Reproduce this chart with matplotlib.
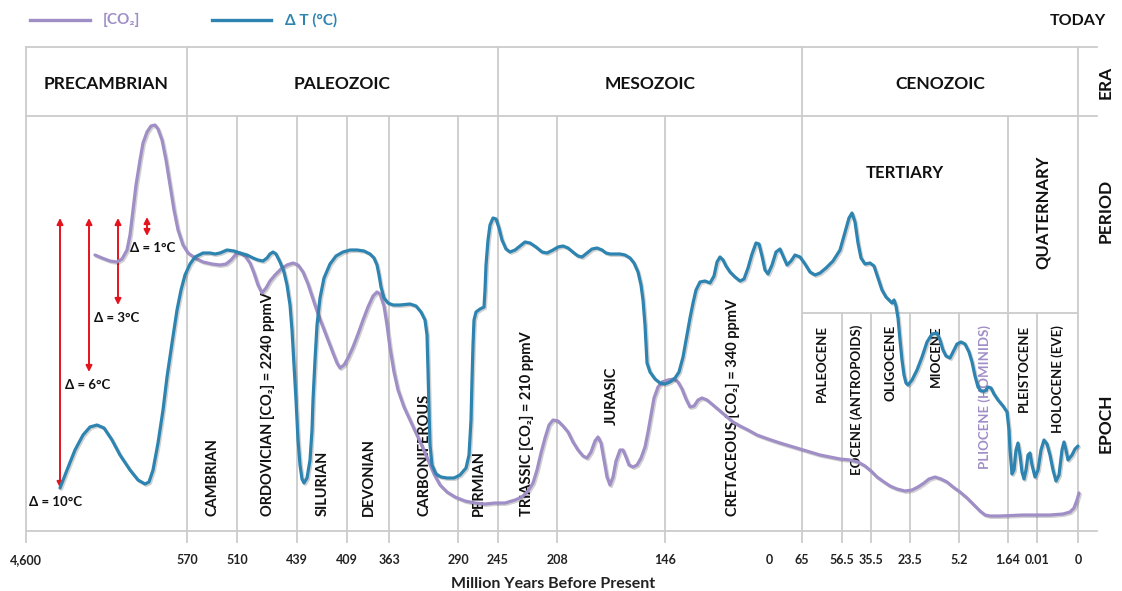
import matplotlib
matplotlib.use("Agg")
import matplotlib.pyplot as plt
import matplotlib.patheffects as pe

plt.rcParams['font.family'] = ['Lato', 'DejaVu Sans']

# colours
BLUE = "#2e84b0"
PURPLE = "#a08ec6"
GRID = "#cccccc"
RED = "#e3141e"

# timeline ticks (position along the chart, label in Ma)
tick_x = [26, 187, 237, 297, 347, 389, 458, 498, 557, 665, 769, 802, 842, 871, 910, 959, 1008, 1037, 1078]
tick_labels = ['4,600', '570', '510', '439', '409', '363', '290', '245', '208', '146', '0',
               '65', '56.5', '35.5', '23.5', '5.2', '1.64', '0.01', '0']

era_names = ['PRECAMBRIAN', 'PALEOZOIC', 'MESOZOIC', 'CENOZOIC']
era_x = [106, 342, 650, 940]
era_lines = [26, 187, 498, 802, 1078]
period_lines = [237, 297, 347, 389, 458, 557, 665, 1008]
epoch_lines = [842, 871, 910, 959, 1037]

period_names = ['CAMBRIAN', 'ORDOVICIAN [CO₂] = 2240 ppmV', 'SILURIAN', 'DEVONIAN', 'CARBONIFEROUS',
                'PERMIAN', 'TRIASSIC [CO₂] = 210 ppmV', 'JURASIC', 'CRETACEOUS [CO₂] = 340 ppmV']
period_x = [213, 268, 323, 369, 425, 479, 527, 612, 733]
period_base = [516, 516, 516, 516, 516, 516, 516, 425, 516]

epoch_names = ['PALEOCENE', 'EOCENE (ANTROPOIDS)', 'OLIGOCENE', 'MIOCENE', 'PLIOCENE (HOMINIDS)',
               'PLEISTOCENE', 'HOLOCENE (EVE)']
epoch_x = [822, 857, 891, 936, 985, 1024, 1058]

# delta-T scale arrows in the Precambrian
delta_labels = ['Δ = 10°C', 'Δ = 6°C', 'Δ = 3°C', 'Δ = 1°C']
arrow_x = [60, 89, 118, 147]
arrow_top = [218, 218, 218, 217]
arrow_bottom = [488, 372, 305, 236]
delta_lab_pos = [(56, 502), (88, 385), (117, 318), (153, 248)]

temp_x = [60, 67, 75, 83, 90, 97, 104, 112, 120, 130, 138, 145, 149, 153, 158, 163, 167, 172, 177, 181,
          185, 190, 195, 203, 210, 215, 220, 227, 234, 240, 247, 253, 258, 263, 267, 270, 273, 276, 280, 284,
          287, 290, 292, 294, 296, 298, 300, 302, 304, 307, 310, 312, 313, 315, 317, 320, 324, 330, 336, 343,
          350, 357, 364, 370, 374, 377, 379, 381, 384, 388, 393, 400, 410, 416, 421, 425, 427, 428, 429, 430,
          432, 436, 441, 447, 454, 460, 466, 469, 471, 472, 473, 474, 476, 480, 484, 485, 486, 488, 490, 493,
          496, 499, 502, 506, 510, 515, 520, 525, 530, 536, 542, 547, 553, 558, 563, 568, 574, 578, 582, 587,
          592, 597, 602, 606, 610, 615, 620, 625, 630, 634, 638, 641, 643, 645, 646, 647, 650, 655, 660, 665,
          670, 675, 679, 683, 687, 690, 693, 696, 700, 705, 710, 714, 717, 720, 723, 726, 730, 735, 740, 744,
          748, 752, 756, 759, 762, 765, 768, 772, 776, 780, 784, 787, 791, 795, 800, 805, 810, 815, 820, 826,
          833, 840, 845, 849, 852, 855, 858, 861, 865, 870, 874, 878, 882, 886, 890, 892, 894, 896, 898, 900,
          902, 904, 906, 908, 912, 917, 922, 927, 932, 937, 940, 943, 946, 950, 953, 957, 961, 965, 969, 972,
          975, 978, 981, 985, 988, 991, 994, 998, 1003, 1007, 1009, 1010, 1012, 1014, 1016, 1018, 1020, 1022, 1024, 1026,
          1028, 1030, 1032, 1035, 1038, 1041, 1044, 1047, 1050, 1053, 1056, 1059, 1062, 1064, 1066, 1068, 1072, 1075, 1078]
temp_y = [488, 470, 450, 435, 427, 425, 428, 440, 455, 470, 480, 484, 482, 470, 443, 410, 377, 343, 310, 290,
          275, 264, 257, 253, 253, 254, 253, 250, 251, 253, 255, 258, 260, 261, 258, 254, 252, 254, 262, 272,
          285, 305, 330, 365, 400, 440, 465, 479, 483, 478, 460, 430, 400, 360, 325, 298, 278, 264, 256, 252,
          250, 250, 251, 254, 258, 265, 275, 287, 298, 303, 305, 305, 304, 306, 312, 320, 335, 370, 410, 445,
          465, 474, 477, 478, 478, 475, 468, 455, 420, 380, 345, 320, 312, 309, 307, 290, 265, 240, 225, 218,
          219, 228, 240, 249, 252, 250, 246, 242, 243, 247, 252, 253, 250, 247, 246, 248, 253, 256, 257, 253,
          249, 248, 250, 253, 254, 254, 254, 255, 258, 263, 272, 285, 300, 325, 345, 363, 372, 379, 383, 384,
          382, 378, 372, 357, 335, 318, 303, 290, 282, 281, 283, 276, 262, 257, 260, 266, 272, 277, 281, 279,
          268, 254, 243, 244, 256, 270, 274, 265, 252, 249, 258, 265, 261, 255, 257, 264, 272, 275, 273, 268,
          261, 250, 232, 218, 213, 222, 243, 258, 264, 263, 266, 278, 290, 297, 301, 303, 300, 306, 318, 340,
          360, 375, 383, 385, 380, 370, 357, 342, 334, 333, 340, 350, 356, 358, 352, 344, 342, 344, 352, 362,
          376, 387, 391, 391, 387, 388, 394, 400, 406, 412, 430, 450, 474, 470, 450, 443, 455, 472, 479, 470,
          455, 453, 465, 477, 470, 450, 440, 444, 455, 470, 481, 475, 450, 442, 450, 460, 455, 449, 446]

co2_x = [95, 102, 110, 117, 122, 127, 130, 133, 136, 140, 143, 147, 151, 155, 158, 162, 166, 170, 174, 178,
         183, 188, 195, 203, 212, 220, 226, 231, 236, 240, 245, 250, 254, 258, 262, 266, 270, 275, 281, 287,
         293, 298, 303, 308, 313, 318, 323, 328, 333, 337, 340, 344, 348, 353, 358, 363, 368, 373, 377, 380,
         384, 387, 390, 394, 398, 404, 410, 416, 422, 428, 434, 440, 447, 455, 465, 475, 485, 495, 505, 515,
         522, 528, 533, 537, 541, 545, 549, 553, 558, 563, 568, 573, 578, 583, 587, 591, 595, 598, 601, 604,
         607, 610, 613, 616, 620, 623, 626, 629, 633, 637, 641, 645, 648, 651, 654, 658, 662, 668, 674, 678,
         682, 686, 690, 694, 698, 702, 707, 713, 720, 727, 733, 740, 748, 757, 768, 780, 790, 800, 810, 820,
         830, 840, 850, 858, 865, 871, 877, 884, 890, 897, 905, 912, 918, 924, 929, 935, 941, 947, 953, 960,
         967, 974, 980, 985, 990, 1000, 1023, 1050, 1063, 1070, 1074, 1077, 1079]
co2_y = [255, 258, 261, 262, 259, 250, 235, 210, 185, 160, 143, 132, 126, 125, 129, 140, 160, 185, 210, 230,
         245, 253, 258, 262, 264, 265, 264, 260, 254, 253, 256, 263, 273, 285, 293, 288, 281, 275, 269, 265,
         263, 265, 272, 284, 299, 314, 327, 340, 353, 363, 368, 365, 358, 347, 334, 320, 307, 296, 292, 294,
         306, 325, 348, 372, 390, 407, 420, 433, 446, 460, 474, 485, 492, 497, 501, 503, 504, 503, 503, 500,
         497, 491, 483, 470, 453, 438, 425, 420, 421, 426, 432, 442, 450, 456, 458, 452, 441, 437, 443, 460,
         477, 485, 477, 461, 450, 450, 457, 465, 467, 465, 458, 447, 432, 415, 398, 387, 382, 380, 379, 382,
         389, 399, 407, 406, 400, 398, 400, 405, 411, 417, 422, 426, 430, 435, 439, 443, 446, 449, 452, 455,
         457, 459, 460, 462, 466, 471, 477, 482, 486, 489, 491, 490, 487, 483, 479, 477, 479, 482, 487, 492,
         498, 505, 511, 515, 516, 516, 515, 515, 514, 512, 508, 500, 493]

fig = plt.figure(figsize=(11.22, 5.91), dpi=100)
ax = fig.add_axes([0, 0, 1, 1])
ax.set_xlim(0, 1122)
ax.set_ylim(591, 0)
ax.axis('off')

# grid frame
for y in [47, 116, 531]:
    ax.plot([26, 1097], [y, y], color=GRID, lw=1.3, zorder=1)
ax.plot([802, 1078], [313, 313], color=GRID, lw=1.3, zorder=1)
for x in era_lines:
    ax.plot([x, x], [47, 542], color=GRID, lw=1.3, zorder=1)
for x in period_lines:
    ax.plot([x, x], [116, 542], color=GRID, lw=1.3, zorder=1)
for x in epoch_lines:
    ax.plot([x, x], [313, 542], color=GRID, lw=1.3, zorder=1)

for x, lab in zip(tick_x, tick_labels):
    ax.text(x, 560, lab, ha='center', va='center', fontsize=9, fontweight='bold', color='#222222')
ax.text(553, 584, 'Million Years Before Present', ha='center', va='center', fontsize=11.5,
        fontweight='bold', color='#222222')

# labels
for name, x in zip(era_names, era_x):
    ax.text(x, 84, name, ha='center', va='center', fontsize=12.5, fontweight='bold', color='#111111')
ax.text(905, 173, 'TERTIARY', ha='center', va='center', fontsize=12, fontweight='bold', color='#111111')
ax.text(1043, 212, 'QUATERNARY', ha='center', va='center', rotation=90, fontsize=12,
        fontweight='bold', color='#111111')
for name, x, yb in zip(period_names, period_x, period_base):
    ax.text(x, yb, name, ha='center', va='bottom', rotation=90, fontsize=10.5,
            fontweight='bold', color='#111111', zorder=2)
for name, x in zip(epoch_names, epoch_x):
    c = PURPLE if name.startswith('PLIOCENE') else '#111111'
    ax.text(x, 325, name, ha='center', va='top', rotation=90, fontsize=9.5,
            fontweight='bold', color=c, zorder=2)

ax.text(1106, 82, 'ERA', ha='center', va='center', rotation=90, fontsize=12.5, fontweight='bold', color='#111111')
ax.text(1106, 211, 'PERIOD', ha='center', va='center', rotation=90, fontsize=12.5, fontweight='bold', color='#111111')
ax.text(1106, 423, 'EPOCH', ha='center', va='center', rotation=90, fontsize=12.5, fontweight='bold', color='#111111')
ax.text(1078, 21, 'TODAY', ha='center', va='center', fontsize=11.5, fontweight='bold', color='#111111')

# legend
ax.plot([30, 90], [20, 20], color=PURPLE, lw=2.4)
ax.text(103, 20, '[CO₂]', ha='left', va='center', fontsize=11, fontweight='bold', color=PURPLE)
ax.plot([212, 271], [20, 20], color=BLUE, lw=2.4)
ax.text(285, 20, 'Δ T (°C)', ha='left', va='center', fontsize=11, fontweight='bold', color=BLUE)

# arrows
for x, yt, yb in zip(arrow_x, arrow_top, arrow_bottom):
    ax.annotate('', xy=(x, yb), xytext=(x, yt),
                arrowprops=dict(arrowstyle='<|-|>', color=RED, lw=1.4, mutation_scale=9,
                                shrinkA=0, shrinkB=0), zorder=3)
for lab, (x, y) in zip(delta_labels, delta_lab_pos):
    ax.text(x, y, lab, ha='center', va='center', fontsize=9.5, fontweight='bold', color='#111111')

# curves
shadow = [pe.SimpleLineShadow(offset=(1.0, -1.0), shadow_color='black', alpha=0.18), pe.Normal()]
ax.plot(co2_x, co2_y, color=PURPLE, lw=2.3, solid_joinstyle='round', solid_capstyle='round',
        path_effects=shadow, zorder=4)
ax.plot(temp_x, temp_y, color=BLUE, lw=2.3, solid_joinstyle='round', solid_capstyle='round',
        path_effects=shadow, zorder=5)

fig.savefig('out.png', dpi=100)
